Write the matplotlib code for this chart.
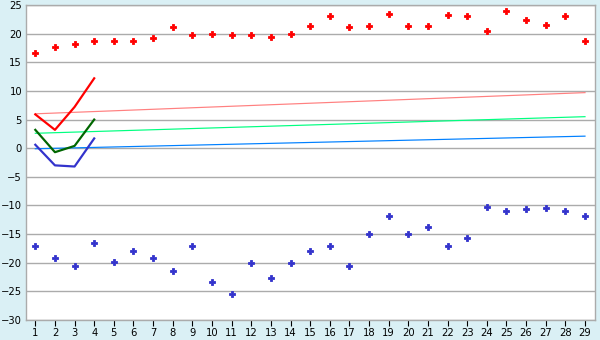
import numpy as np
import matplotlib
matplotlib.use("Agg")
import matplotlib.pyplot as plt

# categories 1..29
cats = list(range(1, 30))

# upper red markers
redPts = [16.6, 17.6, 18.2, 18.7, 18.8, 18.8, 19.2, 21.1, 19.8, 19.9,
          19.7, 19.7, 19.5, 19.9, 21.3, 23.0, 21.1, 21.3, 23.4, 21.3,
          21.3, 23.2, 23.0, 20.4, 23.9, 22.3, 21.5, 23.0, 18.7]
# lower blue markers
bluePts = [-17.0, -19.1, -20.5, -16.6, -19.9, -18.0, -19.1, -21.5, -17.0, -23.3,
           -25.5, -20.1, -22.6, -20.1, -18.0, -17.1, -20.5, -15.0, -11.9, -15.0,
           -13.8, -17.0, -15.6, -10.3, -10.9, -10.7, -10.5, -11.0, -11.9]

# short lines over first 4 categories
lineCats  = [1, 2, 3, 4]
redLine   = [5.9, 3.2, 7.2, 12.2]
greenLine = [3.2, -0.7, 0.4, 5.0]
blueLine  = [0.6, -3.0, -3.2, 1.7]

# thin trend lines (start at category 1, end at category 29)
trendCats  = [1, 29]
pinkTrend  = [6.0, 9.7]
lgTrend    = [2.6, 5.5]
lbTrend    = [-0.1, 2.1]

yTicks = list(range(-30, 26, 5))

bgCol   = "#DAF0F5"
gridCol = "#ABABAB"
px = 0.72  # one pixel in points at dpi 100

fig = plt.figure(figsize=(6, 3.4), dpi=100, facecolor=bgCol)
ax = fig.add_axes([25.5/600, 1-320/340, (594.8-25.5)/600, 315/340])
ax.set_facecolor("white")

ax.set_ylim(-30, 25)
ax.set_xlim(0.5, 29.5)
ax.set_yticks(yTicks)
ax.set_xticks(cats)
ax.yaxis.grid(True, color=gridCol, lw=1.4*px)
ax.set_axisbelow(True)

ax.plot(trendCats, pinkTrend, "-", color="#FF8080", lw=1.2*px)
ax.plot(trendCats, lgTrend,   "-", color="#00FF80", lw=1.2*px)
ax.plot(trendCats, lbTrend,   "-", color="#0080FF", lw=1.2*px)

ax.plot(lineCats, redLine,   "-", color="#FF0000", lw=2.2*px)
ax.plot(lineCats, greenLine, "-", color="#006600", lw=2.2*px)
ax.plot(lineCats, blueLine,  "-", color="#3333CC", lw=2.2*px)

ax.plot(cats, redPts,  "P", color="#FF0000", ms=5, mew=0.6, ls="none")
ax.plot(cats, bluePts, "P", color="#3333CC", ms=5, mew=0.6, ls="none")

for s in ax.spines.values():
  s.set_color(gridCol)
  s.set_linewidth(1.4*px)
ax.tick_params(axis="y", length=0, pad=2.5, labelsize=7.2, colors="black")
ax.tick_params(axis="x", length=4, width=0.8, pad=2, labelsize=7.2, color="black")

fig.savefig("out.png", dpi=100, facecolor=bgCol)
